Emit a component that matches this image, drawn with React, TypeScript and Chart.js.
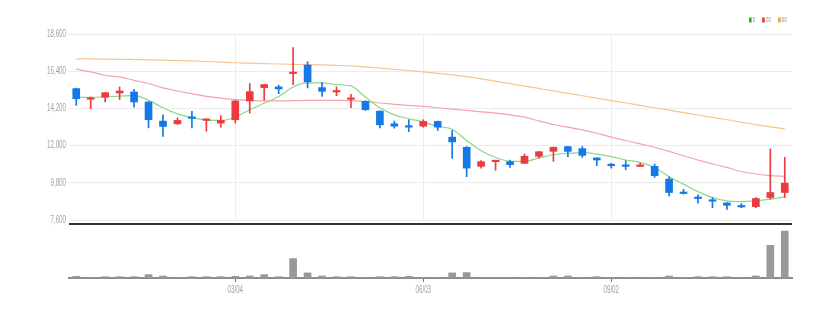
import React, { useEffect, useRef } from 'react';
import { Chart, registerables } from 'chart.js';

Chart.register(...registerables);

// ---- data ----
const categories = [
  '12/18', '12/25', '01/01', '01/08', '01/15', '01/22', '01/29', '02/05', '02/12', '02/19',
  '02/26', '03/04', '03/11', '03/18', '03/25', '04/01', '04/08', '04/15', '04/22', '04/29',
  '05/06', '05/13', '05/20', '05/27', '06/03', '06/10', '06/17', '06/24', '07/01', '07/08',
  '07/15', '07/22', '07/29', '08/05', '08/12', '08/19', '08/26', '09/02', '09/09', '09/16',
  '09/23', '09/30', '10/07', '10/14', '10/21', '10/28', '11/04', '11/11', '11/18', '11/25',
];

const openPrices = [
  15370, 14740, 14860, 15110, 15170, 14580, 13450, 13290, 13680, 13490,
  13330, 13530, 14640, 15430, 15470, 16260, 16760, 15430, 15170, 14735,
  14620, 14040, 13290, 13170, 13150, 13430, 12500, 11900, 10770, 11050,
  11050, 10950, 11370, 11660, 11940, 11820, 11270, 10870, 10850, 10770,
  10770, 10020, 9245, 8950, 8770, 8610, 8430, 8390, 8930, 9225,
];
const highPrices = [
  15400, 14870, 15150, 15470, 15330, 14600, 13820, 13640, 14020, 13590,
  13780, 14680, 15670, 15630, 15570, 17790, 16960, 15730, 15470, 15030,
  14660, 14060, 13450, 13530, 13530, 13450, 12890, 11940, 11110, 11100,
  11150, 11500, 11660, 11920, 11960, 11940, 11280, 10950, 11110, 10970,
  10910, 10160, 9420, 9090, 8930, 8630, 8570, 8930, 11800, 11300,
];
const lowPrices = [
  14380, 14180, 14580, 14720, 14280, 13050, 12540, 13250, 13050, 12850,
  13090, 13330, 13920, 14680, 15070, 15610, 15410, 14910, 14950, 14240,
  14080, 13050, 13030, 12830, 13090, 12890, 11250, 10160, 10670, 10550,
  10710, 10930, 11250, 11070, 11350, 11300, 10810, 10670, 10570, 10760,
  10120, 9030, 9130, 8590, 8330, 8230, 8330, 8330, 8830, 8930,
];
const closePrices = [
  14770, 14810, 15130, 15230, 14580, 13530, 13130, 13490, 13610, 13545,
  13490, 14640, 15190, 15610, 15350, 16340, 15770, 15210, 15230, 14815,
  14120, 13230, 13150, 13090, 13430, 13090, 12220, 10670, 11050, 11090,
  10870, 11370, 11640, 11900, 11660, 11420, 11150, 10810, 10770, 10850,
  10220, 9225, 9165, 8870, 8710, 8470, 8370, 8870, 9225, 9780,
];

const ma5 = [
  14850, 14850, 14890, 14930, 14950, 14680, 14240, 13880, 13650, 13510,
  13490, 13680, 14120, 14500, 14900, 15470, 15710, 15710, 15610, 15530,
  14870, 14240, 13820, 13590, 13390, 13130, 12970, 12300, 11700, 11310,
  11070, 11070, 11270, 11460, 11540, 11580, 11500, 11350, 11150, 11010,
  10710, 10160, 9720, 9280, 8930, 8730, 8690, 8730, 8830, 8970,
];
const ma20 = [
  16520, 16360, 16160, 16060, 15860, 15670, 15410, 15230, 15070, 14910,
  14810, 14715, 14675, 14640, 14640, 14655, 14675, 14675, 14675, 14655,
  14600, 14520, 14440, 14380, 14320, 14240, 14160, 14080, 14000, 13920,
  13820, 13680, 13460, 13250, 13090, 12930, 12730, 12500, 12300, 12100,
  11900, 11660, 11400, 11150, 10910, 10710, 10470, 10320, 10220, 10180,
];
const ma60 = [
  17130, 17125, 17115, 17105, 17090, 17075, 17055, 17030, 17005, 16975,
  16940, 16900, 16875, 16850, 16825, 16805, 16790, 16770, 16745, 16715,
  16650, 16580, 16510, 16440, 16360, 16270, 16180, 16080, 15950, 15810,
  15660, 15520, 15380, 15240, 15090, 14950, 14810, 14660, 14520, 14380,
  14240, 14100, 13950, 13810, 13670, 13530, 13390, 13240, 13110, 12990,
];

const volumes = [
  5000, 2000, 4000, 4000, 4000, 10000, 6000, 1000, 4000, 4000,
  4000, 5000, 6000, 10000, 4000, 57000, 15000, 6000, 4000, 4000,
  2000, 4000, 4000, 5000, 2000, 2000, 15000, 16000, 2000, 2000,
  2000, 2000, 2000, 6000, 6000, 2000, 4000, 1000, 2000, 1000,
  2000, 6000, 2000, 4000, 4000, 4000, 2000, 6000, 96000, 138000,
];

const yTickValues = [7600, 9800, 12000, 14200, 16400, 18600];
const xTickLabels = ['03/04', '06/03', '09/02'];
const legendLabels = ['5', '20', '60'];

// ---- styles ----
const UP = '#ec3b3f';
const DOWN = '#1478e6';
const FONT = '"Liberation Sans", Arial, sans-serif';
const TICK_COLOR = '#a0a0a0';
const GRID_COLOR = '#ececec';
const CONDENSE = 0.62;
const maLineColors = ['#88d888', '#f4a3a8', '#f7c590'];
const maLegendColors = ['#22b822', '#ee3333', '#f89a3a'];

const candleColors = categories.map((_, i) => (closePrices[i] >= openPrices[i] ? UP : DOWN));

const filterXTicks = (scale: any) => {
  scale.ticks = scale.ticks.filter((t: any) => xTickLabels.includes(categories[t.value]));
};

// narrow the tick label glyphs horizontally (fillText maxWidth), like the reference's condensed face
const condensePlugin = {
  id: 'condenseTicks',
  beforeDraw(chart: any) {
    const ctx = chart.ctx;
    ctx.save();
    Object.values(chart.scales).forEach((scale: any) => {
      if (!scale.options.display || !scale.options.ticks.display) return;
      const items = scale.getLabelItems(chart.chartArea);
      items.forEach((it: any) => {
        ctx.font = it.font.string;
        const w = ctx.measureText(String(it.label)).width;
        it.options.maxWidth = w * CONDENSE;
      });
    });
    ctx.restore();
  },
};

const legendPlugin = {
  id: 'maLegend',
  afterDraw(chart: any) {
    const ctx = chart.ctx;
    const items = chart.data.datasets.filter((d: any) => d.legendColor);
    ctx.save();
    ctx.font = `8px ${FONT}`;
    ctx.textBaseline = 'middle';
    ctx.textAlign = 'left';
    const boxW = 2.6;
    const boxH = 5;
    const gapBoxText = 0.8;
    const gapItems = 7;
    const widths = items.map((d: any) => ctx.measureText(d.label).width * CONDENSE);
    const total =
      widths.reduce((a: number, b: number) => a + b + boxW + gapBoxText, 0) + gapItems * (items.length - 1);
    let x = 787 - total;
    const yc = 20;
    items.forEach((d: any, i: number) => {
      ctx.fillStyle = d.legendColor;
      ctx.fillRect(x, yc - boxH / 2, boxW, boxH);
      ctx.fillStyle = '#999';
      ctx.fillText(d.label, x + boxW + gapBoxText, yc, widths[i]);
      x += boxW + gapBoxText + widths[i] + gapItems;
    });
    ctx.restore();
  },
};

export default function App() {
  const priceRef = useRef<HTMLCanvasElement>(null);
  const volRef = useRef<HTMLCanvasElement>(null);

  useEffect(() => {
    const priceChart = new Chart(priceRef.current as HTMLCanvasElement, {
      type: 'bar',
      data: {
        labels: categories,
        datasets: [
          ...[ma5, ma20, ma60].map((arr, k) => ({
            type: 'line' as const,
            label: legendLabels[k],
            data: arr,
            borderColor: maLineColors[k],
            borderWidth: 1.2,
            pointRadius: 0,
            cubicInterpolationMode: 'monotone' as const,
            order: 5,
            legendColor: maLegendColors[k],
          })),
          {
            type: 'bar' as const,
            label: 'wick',
            data: lowPrices.map((l, i) => [l, highPrices[i]]),
            backgroundColor: candleColors,
            barThickness: 1,
            grouped: false,
            order: 1,
          },
          {
            type: 'bar' as const,
            label: 'body',
            data: openPrices.map((o, i) => [o, closePrices[i]]),
            backgroundColor: candleColors,
            barThickness: 7,
            minBarLength: 1.5,
            grouped: false,
            order: 0,
          },
        ] as any,
      },
      options: {
        responsive: false,
        animation: false,
        layout: { padding: { left: 0, right: 47, top: 34, bottom: 4 } },
        plugins: { legend: { display: false }, tooltip: { enabled: false } },
        scales: {
          x: {
            type: 'category',
            offset: true,
            grid: { offset: false, color: GRID_COLOR, drawTicks: false },
            border: { display: false },
            ticks: { display: false },
            afterBuildTicks: filterXTicks,
          },
          y: {
            min: 7600,
            max: 18600,
            afterBuildTicks: (s: any) => {
              s.ticks = yTickValues.map((v) => ({ value: v }));
            },
            afterFit: (s: any) => {
              s.width = 69;
            },
            grid: { color: GRID_COLOR, drawTicks: false },
            border: { display: false },
            ticks: {
              padding: 3,
              color: TICK_COLOR,
              font: { family: FONT, size: 10 },
              callback: (v: any) => Number(v).toLocaleString('en-US'),
            },
          },
        },
      } as any,
      plugins: [condensePlugin, legendPlugin],
    });

    const volChart = new Chart(volRef.current as HTMLCanvasElement, {
      type: 'bar',
      data: {
        labels: categories,
        datasets: [
          {
            label: 'volume',
            data: volumes,
            backgroundColor: '#999999',
            barThickness: 7,
          },
        ],
      },
      options: {
        responsive: false,
        animation: false,
        layout: { padding: { left: 69, right: 47, top: 0, bottom: 14 } },
        plugins: { legend: { display: false }, tooltip: { enabled: false } },
        scales: {
          x: {
            type: 'category',
            offset: true,
            grid: { offset: false, drawOnChartArea: false, drawTicks: true, tickLength: 4, tickColor: '#777' },
            border: { display: true, color: '#8c8c8c', width: 2 },
            ticks: { color: TICK_COLOR, font: { family: FONT, size: 10 }, padding: 2, maxRotation: 0, autoSkip: false },
            afterBuildTicks: filterXTicks,
          },
          y: { display: false, min: 0, max: 153000 },
        },
      } as any,
      plugins: [condensePlugin],
    });

    return () => {
      priceChart.destroy();
      volChart.destroy();
    };
  }, []);

  return (
    <div style={{ position: 'absolute', left: 0, top: 0, width: 839, height: 312, background: '#fff' }}>
      <canvas ref={priceRef} width={839} height={229} style={{ position: 'absolute', left: 0, top: 0 }} />
      <canvas ref={volRef} width={839} height={86} style={{ position: 'absolute', left: 0, top: 226 }} />
      <div style={{ position: 'absolute', left: 69, top: 223, width: 723, height: 2, background: '#333' }} />
    </div>
  );
}
